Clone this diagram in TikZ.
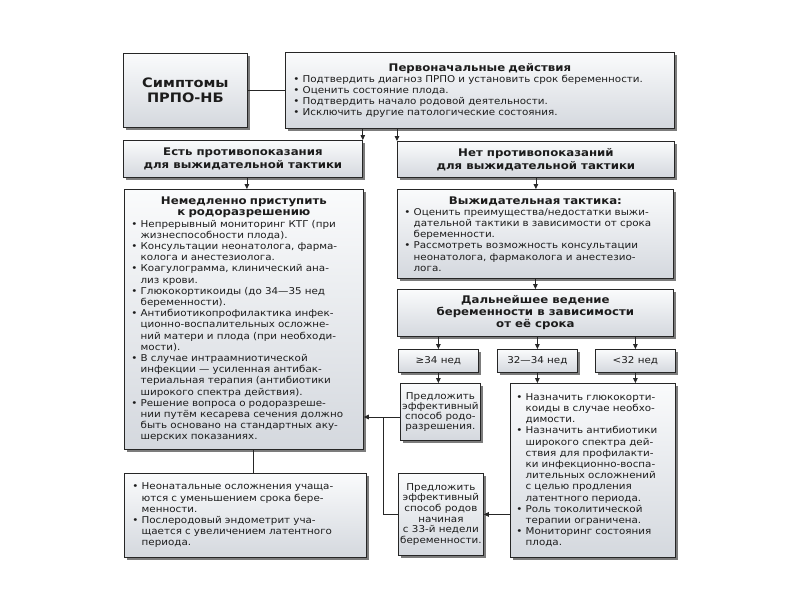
\documentclass[tikz,border=0pt]{standalone}
\usepackage{fontspec}
\setmainfont{DejaVu Sans}
\newfontfamily\bodyf{DejaVu Sans}[FakeStretch=1.1]
\newfontfamily\headf{DejaVu Sans}[FakeStretch=1.12]
\usetikzlibrary{arrows.meta,shadows,calc}
\definecolor{boxtop}{RGB}{250,251,252}
\definecolor{boxbot}{RGB}{212,216,222}
\definecolor{ink}{RGB}{28,28,28}
\newcommand{\bl}{\textbullet\ }
\newcommand{\ind}{\hphantom{\textbullet\ }}
\newcommand{\bt}{\bodyf\fontsize{9.4}{11.2}\selectfont}
\newcommand{\hb}{\headf\bfseries\fontsize{10.5}{12}\selectfont}
\newcommand{\hl}[1]{\makebox[\linewidth]{\hb #1}}
\tikzset{
  box/.style={draw=black!85, line width=0.8pt, top color=boxtop, bottom color=boxbot,
    drop shadow={shadow xshift=2.2pt, shadow yshift=-2.2pt, fill=black!60, opacity=0.85},
    inner sep=0pt, anchor=north west, text=ink},
  hbox/.style={box, align=center, font=\hb, execute at begin node=\setlength{\baselineskip}{13pt}},
  lbox/.style={box, align=left, font=\bt},
  cbox/.style={box, align=center, font=\bt},
  arr/.style={draw=black!85, line width=0.8pt, -{Triangle[length=5pt,width=4.6pt]}},
  ln/.style={draw=black!85, line width=0.8pt},
}
\begin{document}
\begin{tikzpicture}[x=1pt,y=-1pt]
\fill[white] (0,0) rectangle (794,595);
\useasboundingbox (0,0) rectangle (794,595);

% top row
\node[box, align=center, minimum width=124pt, minimum height=74pt,
      font=\headf\bfseries\fontsize{13}{14.5}\selectfont] (symp) at (123,53) {Симптомы\\ПРПО-НБ};
\node[lbox, minimum width=389pt, minimum height=76pt, text width=373pt] (perv) at (285,52) {%
\hl{Первоначальные действия}\\
\bl Подтвердить диагноз ПРПО и установить срок беременности.\\
\bl Оценить состояние плода.\\
\bl Подтвердить начало родовой деятельности.\\
\bl Исключить другие патологические состояния.};

% second row
\node[hbox, minimum width=239pt, minimum height=37pt] (est) at (123,140) {Есть противопоказания\\для выжидательной тактики};
\node[hbox, minimum width=277pt, minimum height=36pt] (net) at (397,141) {Нет противопоказаний\\для выжидательной тактики};

% left column
\node[lbox, minimum width=239pt, minimum height=260pt, text width=225pt] (nemed) at (124,189) {%
\hl{Немедленно приступить}\\
\hl{к родоразрешению}\\
\bl Непрерывный мониторинг КТГ (при\\
\ind жизнеспособности плода).\\
\bl Консультации неонатолога, фарма-\\
\ind колога и анестезиолога.\\
\bl Коагулограмма, клинический ана-\\
\ind лиз крови.\\
\bl Глюкокортикоиды (до 34—35 нед\\
\ind беременности).\\
\bl Антибиотикопрофилактика инфек-\\
\ind ционно-воспалительных осложне-\\
\ind ний матери и плода (при необходи-\\
\ind мости).\\
\bl В случае интраамниотической\\
\ind инфекции — усиленная антибак-\\
\ind териальная терапия (антибиотики\\
\ind широкого спектра действия).\\
\bl Решение вопроса о родоразреше-\\
\ind нии путём кесарева сечения должно\\
\ind быть основано на стандартных аку-\\
\ind шерских показаниях.};

\node[lbox, minimum width=242pt, minimum height=84pt, text width=226pt] (neon) at (124,473) {%
\bl Неонатальные осложнения учаща-\\
\ind ются с уменьшением срока бере-\\
\ind менности.\\
\bl Послеродовый эндометрит уча-\\
\ind щается с увеличением латентного\\
\ind периода.};

% right column
\node[lbox, minimum width=276pt, minimum height=89pt, text width=262pt] (vyzh) at (397,189) {%
\hl{Выжидательная тактика:}\\
\bl Оценить преимущества/недостатки выжи-\\
\ind дательной тактики в зависимости от срока\\
\ind беременности.\\
\bl Рассмотреть возможность консультации\\
\ind неонатолога, фармаколога и анестезио-\\
\ind лога.};

\node[hbox, minimum width=276pt, minimum height=47pt, execute at begin node=\setlength{\baselineskip}{12pt}] (daln) at (397,289) {Дальнейшее ведение\\беременности в зависимости\\от её срока};

\node[cbox, minimum width=80pt, minimum height=23pt] (s1) at (398,349) {≥34 нед};
\node[cbox, minimum width=80pt, minimum height=23pt] (s2) at (497,349) {32—34 нед};
\node[cbox, minimum width=80pt, minimum height=23pt] (s3) at (595,349) {<32 нед};

\node[cbox, minimum width=80pt, minimum height=57pt, execute at begin node=\setlength{\baselineskip}{10pt}] (pr1) at (400,383) {Предложить\\эффективный\\способ родо-\\разрешения.};

\node[lbox, minimum width=165pt, minimum height=174pt, text width=153pt] (big) at (510,383) {%
\bl Назначить глюкокорти-\\
\ind коиды в случае необхо-\\
\ind димости.\\
\bl Назначить антибиотики\\
\ind широкого спектра дей-\\
\ind ствия для профилакти-\\
\ind ки инфекционно-воспа-\\
\ind лительных осложнений\\
\ind с целью продления\\
\ind латентного периода.\\
\bl Роль токолитической\\
\ind терапии ограничена.\\
\bl Мониторинг состояния\\
\ind плода.};

\node[cbox, minimum width=85pt, minimum height=82pt, execute at begin node=\setlength{\baselineskip}{10.6pt}] (pr2) at (398,473) {Предложить\\эффективный\\способ родов\\начиная\\с 33-й недели\\беременности.};

% connectors
\draw[ln] (symp.east) -- (symp.east -| perv.west);
\draw[arr] (perv.south -| est.north east) -- (est.north east);
\draw[arr] (perv.south -| net.north west) -- (net.north west);
\draw[arr] ([xshift=4pt]est.south) -- ([xshift=4pt]est.south |- nemed.north);
\draw[ln] ([xshift=9pt]nemed.south) -- ([xshift=9pt]nemed.south |- neon.north);
\draw[arr] (net.south) -- (net.south |- vyzh.north);
\draw[arr] (vyzh.south) -- (vyzh.south |- daln.north);
\draw[arr] (daln.south -| s1.north) -- (s1.north);
\draw[arr] (daln.south -| s2.north) -- (s2.north);
\draw[arr] (daln.south -| s3.north) -- (s3.north);
\draw[arr] (s1.south) -- (s1.south |- pr1.north);
\draw[arr] (s2.south) -- (s2.south |- big.north);
\draw[arr] (s3.south) -- (s3.south |- big.north);
\coordinate (j1) at (383,417);
\draw[arr] (pr1.west |- j1) -- (j1 -| nemed.east);
\draw[ln] (j1) |- (pr2.west);
\draw[arr] (pr2.east -| big.west) -- (pr2.east);
\end{tikzpicture}
\end{document}
